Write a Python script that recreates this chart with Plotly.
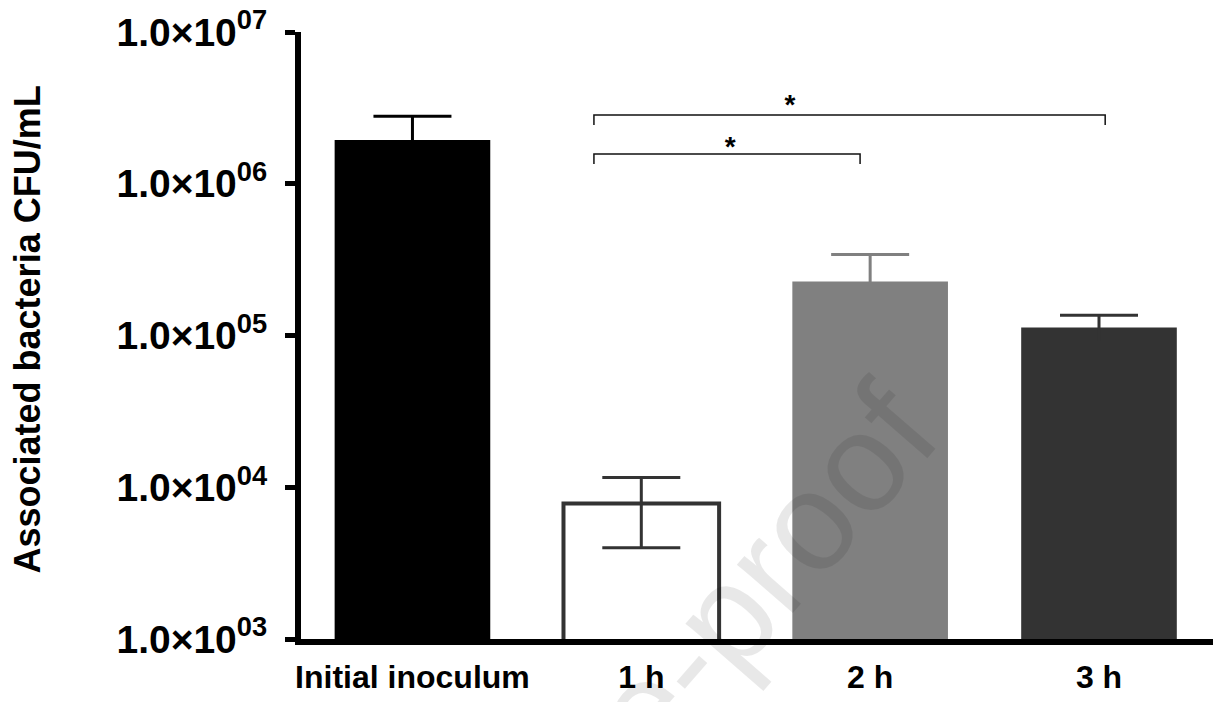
import plotly.graph_objects as go

# ---- data ----
categories = ["Initial inoculum", "1 h", "2 h", "3 h"]
means = [1.94e6, 7.8e3, 2.27e5, 1.13e5]
sds = [0.85e6, 3.8e3, 1.15e5, 2.3e4]
fill_colors = ["#000000", "#ffffff", "#808080", "#333333"]
edge_colors = ["#000000", "#333333", "#808080", "#333333"]
edge_widths = [0, 4, 0, 0]

y_exponents = [3, 4, 5, 6, 7]
y_tickvals = [10 ** e for e in y_exponents]
y_ticktext = ["1.0×10<sup>%02d</sup>" % e for e in y_exponents]

# significance brackets (category units / data values)
sig_left = [0.793, 0.793]
sig_right = [1.956, 3.027]
sig_level = [1.57e6, 2.84e6]
sig_drop = [1.35e6, 2.44e6]
star_x = [1.388, 1.65]
star_y = [1.69e6, 3.2e6]
star_text = ["*", "*"]

FONT = "Liberation Sans, Arial, sans-serif"

fig = go.Figure()
for i, cat in enumerate(categories):
    fig.add_trace(go.Bar(
        x=[i], y=[means[i]], width=0.68,
        marker=dict(color=fill_colors[i],
                    line=dict(color=edge_colors[i], width=edge_widths[i])),
        error_y=dict(type="data", array=[sds[i]], arrayminus=[sds[i]],
                     color=edge_colors[i], thickness=3, width=39, visible=True),
        name=cat, showlegend=False, hoverinfo="skip",
    ))

for xl, xr, lv, dr in zip(sig_left, sig_right, sig_level, sig_drop):
    fig.add_trace(go.Scatter(
        x=[xl, xl, xr, xr], y=[dr, lv, lv, dr], mode="lines",
        line=dict(color="#111111", width=1.5), showlegend=False, hoverinfo="skip",
    ))

fig.add_trace(go.Scatter(
    x=star_x, y=star_y, mode="text", text=star_text,
    textfont=dict(family=FONT, size=28, color="black", weight="bold"),
    textposition="middle center", showlegend=False, hoverinfo="skip",
))

fig.update_layout(
    width=1221, height=702,
    margin=dict(l=293, r=11, t=24, b=71),
    paper_bgcolor="white", plot_bgcolor="white",
    barmode="overlay",
    font=dict(family=FONT, color="black"),
    xaxis=dict(
        range=[-0.487, 3.52], tickvals=list(range(len(categories))), ticktext=categories,
        showline=True, linewidth=6, linecolor="black", ticks="", showgrid=False,
        zeroline=False, tickfont=dict(family=FONT, size=32, color="black", weight="bold"),
        ticklabelstandoff=5, automargin=False, ticklabeloverflow="allow",
    ),
    yaxis=dict(
        type="log", range=[3, 7], tickvals=y_tickvals, ticktext=y_ticktext,
        showline=True, linewidth=6, linecolor="black", ticks="outside",
        ticklen=10, tickwidth=5, tickcolor="black", showgrid=False, zeroline=False,
        tickfont=dict(family=FONT, size=39, color="black", weight="bold"),
        ticklabelstandoff=10, automargin=False, ticklabeloverflow="allow",
    ),
    annotations=[
        dict(text="Associated bacteria CFU/mL", textangle=-90, xref="paper", yref="paper",
             x=0, y=0.5, xanchor="center", yanchor="middle", xshift=-274, yshift=6,
             showarrow=False, font=dict(family=FONT, size=36, color="black", weight="bold")),
        dict(text="Journal Pre-proof", textangle=-49, xref="paper", yref="paper",
             x=0, y=0, xanchor="center", yanchor="middle", xshift=252, yshift=-175,
             showarrow=False, font=dict(family=FONT, size=140, color="rgba(0,0,0,0.09)")),
    ],
)

fig.write_html("out.html")
